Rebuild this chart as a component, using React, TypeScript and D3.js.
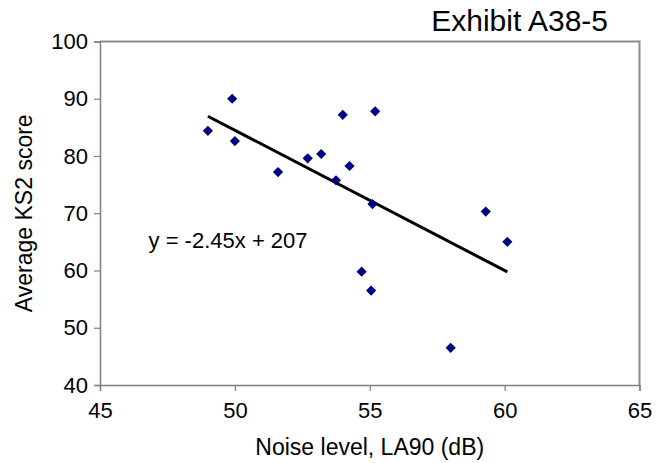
import React, { useEffect, useRef } from "react";
import * as d3 from "d3";

const noiseLevel = [49.0, 49.9, 50.0, 51.6, 52.7, 53.2, 53.75, 54.0, 54.25, 55.2, 55.1, 54.7, 55.05, 58.0, 59.3, 60.1];
const ks2Score = [84.4, 90.0, 82.6, 77.2, 79.6, 80.35, 75.75, 87.2, 78.25, 87.8, 71.6, 59.8, 56.5, 46.5, 70.3, 65.0];
const xTicks = [45, 50, 55, 60, 65];
const yTicks = [40, 50, 60, 70, 80, 90, 100];
const slope = -2.45;
const intercept = 207;
const equationLabel = "y = -2.45x + 207";
const titleText = "Exhibit A38-5";
const xLabel = "Noise level, LA90 (dB)";
const yLabel = "Average KS2 score";

const W = 667;
const H = 463;
const M = { left: 100, right: 667 - 639.5, top: 41.5, bottom: 463 - 385 };
const FONT = "'Liberation Sans', Arial, Helvetica, sans-serif";

export default function App() {
  const ref = useRef<SVGSVGElement>(null);

  useEffect(() => {
    const svg = d3.select(ref.current!);
    svg.selectAll("*").remove();

    const x = d3.scaleLinear().domain([45, 65]).range([M.left, W - M.right]);
    const y = d3.scaleLinear().domain([40, 100]).range([H - M.bottom, M.top]);

    svg.append("rect").attr("width", W).attr("height", H).attr("fill", "#fff");

    // plot border (top & right)
    svg
      .append("path")
      .attr("d", `M${x(45)},${y(100)}H${x(65)}V${y(40)}`)
      .attr("fill", "none")
      .attr("stroke", "#8c8c8c")
      .attr("stroke-width", 2);

    const gx = svg
      .append("g")
      .attr("transform", `translate(0,${y(40)})`)
      .call(d3.axisBottom(x).tickValues(xTicks).tickSize(6).tickPadding(6).tickFormat(d3.format("d")));
    const gy = svg
      .append("g")
      .attr("transform", `translate(${x(45)},0)`)
      .call(d3.axisLeft(y).tickValues(yTicks).tickSize(6).tickPadding(6).tickFormat(d3.format("d")));

    [gx, gy].forEach((g) => {
      g.select(".domain").attr("stroke", "#808080").attr("stroke-width", 1.5);
      g.selectAll(".tick line").attr("stroke", "#808080").attr("stroke-width", 1.2);
      g.selectAll(".tick text")
        .attr("fill", "#000")
        .style("font-family", FONT)
        .style("font-size", "22px");
    });
    gx.selectAll(".tick text").attr("dy", "0.95em");

    // trend line
    const [xmin, xmax] = d3.extent(noiseLevel) as [number, number];
    svg
      .append("line")
      .attr("x1", x(xmin))
      .attr("y1", y(slope * xmin + intercept))
      .attr("x2", x(xmax))
      .attr("y2", y(slope * xmax + intercept))
      .attr("stroke", "#000")
      .attr("stroke-width", 3);

    // points
    const sym = d3.symbol().type(d3.symbolSquare).size(52);
    svg
      .append("g")
      .selectAll("path")
      .data(noiseLevel.map((v, i) => [v, ks2Score[i]]))
      .join("path")
      .attr("d", sym as any)
      .attr("transform", (d) => `translate(${x(d[0])},${y(d[1])}) rotate(45)`)
      .attr("fill", "#000080");

    // equation
    svg
      .append("text")
      .attr("x", x(46.8))
      .attr("y", y(63.9))
      .style("font-family", FONT)
      .style("font-size", "22px")
      .attr("fill", "#000")
      .text(equationLabel);

    // title
    svg
      .append("text")
      .attr("x", 608)
      .attr("y", 31)
      .attr("text-anchor", "end")
      .style("font-family", FONT)
      .style("font-size", "30px")
      .attr("fill", "#000")
      .text(titleText);

    // x label
    svg
      .append("text")
      .attr("x", (x(45) + x(65)) / 2)
      .attr("y", 455)
      .attr("text-anchor", "middle")
      .style("font-family", FONT)
      .style("font-size", "23px")
      .attr("fill", "#000")
      .text(xLabel);

    // y label
    svg
      .append("text")
      .attr("transform", `translate(32,${(y(40) + y(100)) / 2}) rotate(-90)`)
      .attr("text-anchor", "middle")
      .style("font-family", FONT)
      .style("font-size", "23px")
      .attr("fill", "#000")
      .text(yLabel);
  }, []);

  return (
    <svg
      ref={ref}
      width={W}
      height={H}
      style={{ position: "absolute", left: 0, top: 0, display: "block" }}
    />
  );
}
